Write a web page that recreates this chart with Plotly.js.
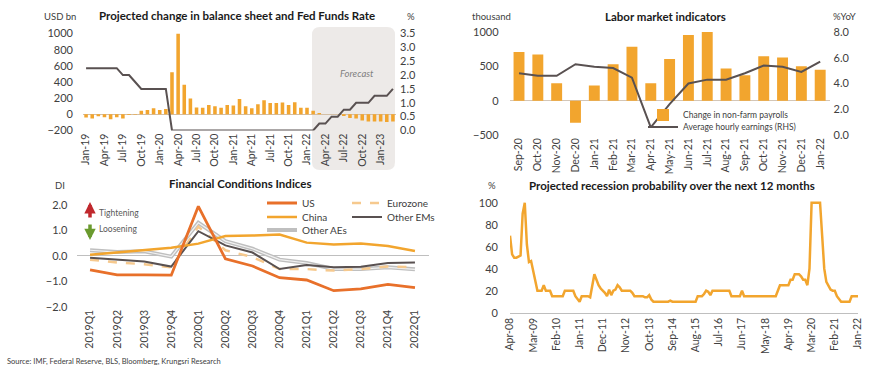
<!DOCTYPE html>
<html><head><meta charset="utf-8">
<script src="https://cdn.plot.ly/plotly-3.0.1.min.js"></script>
<style>html,body{margin:0;padding:0;background:#fff;}#chart{width:870px;height:370px;}</style>
</head><body><div id="chart"></div>
<script>
const MONTHS=['Jan','Feb','Mar','Apr','May','Jun','Jul','Aug','Sep','Oct','Nov','Dec'];
function monthSeq(m0,y0,n){const out=[];for(let i=0;i<n;i++){const m=(m0+i)%12;const y=y0+Math.floor((m0+i)/12);out.push(MONTHS[m]+'-'+String(y%100).padStart(2,'0'));}return out;}

// ---- Panel 1: balance sheet & Fed Funds Rate (Jan-19 .. Mar-23)
const bsMonths = monthSeq(0,2019,51);
const bsChange = [-40,-50,-25,-35,-60,-35,-50,-8,-5,45,55,75,55,65,520,1000,365,195,85,80,115,100,80,115,110,190,100,75,125,175,140,140,145,115,150,80,80,45,15,0,0,0,-20,-45,-50,-75,-90,-90,-90,-95,-90];
const fedFunds = [2.25,2.25,2.25,2.25,2.25,2.25,2.0,2.0,1.75,1.5,1.5,1.5,1.5,1.5,0,0,0,0,0,0,0,0,0,0,0,0,0,0,0,0,0,0,0,0,0,0,0,0,0.25,0.25,0.5,0.5,0.75,0.75,1.0,1.0,1.0,1.25,1.25,1.25,1.5];
const bsTicks = ['Jan-19','Apr-19','Jul-19','Oct-19','Jan-20','Apr-20','Jul-20','Oct-20','Jan-21','Apr-21','Jul-21','Oct-21','Jan-22','Apr-22','Jul-22','Oct-22','Jan-23'];

// ---- Panel 2: Labor market
const labMonths = ['Sep-20','Oct-20','Nov-20','Dec-20','Jan-21','Feb-21','Mar-21','Apr-21','May-21','Jun-21','Jul-21','Aug-21','Sep-21','Oct-21','Nov-21','Dec-21','Jan-22'];
const payrolls = [710,672,255,-320,220,530,785,255,605,955,1000,468,370,648,630,500,452];
const hourlyEarnings = [4.8,4.6,4.6,5.5,5.3,5.2,4.45,0.6,2.4,4.0,4.3,4.3,4.8,5.4,5.3,4.9,5.7];

// ---- Panel 3: Financial Conditions Indices
const quarters = ['2019Q1','2019Q2','2019Q3','2019Q4','2020Q1','2020Q2','2020Q3','2020Q4','2021Q1','2021Q2','2021Q3','2021Q4','2022Q1'];
const fciUS = [-0.55,-0.75,-0.75,-0.76,1.95,-0.12,-0.4,-0.86,-0.95,-1.37,-1.3,-1.12,-1.25];
const fciChina = [0.04,0.13,0.22,0.32,0.48,0.78,0.8,0.84,0.52,0.45,0.49,0.39,0.19];
const fciEuro = [-0.15,-0.26,-0.33,-0.45,1.15,0.22,-0.05,-0.52,-0.52,-0.58,-0.52,-0.42,-0.45];
const fciOtherEM = [-0.07,-0.13,-0.22,-0.42,0.97,0.41,0.13,-0.52,-0.36,-0.45,-0.43,-0.28,-0.26];
const fciOtherAE = [0.22,0.15,0.18,-0.03,1.3,0.58,0.28,-0.15,-0.28,-0.52,-0.52,-0.45,-0.53];

// ---- Panel 4: recession probability (Apr-08 .. Jan-22)
const recMonths = monthSeq(3,2008,166);
const recessionProb = [
 70,53,50,50,51,52,90,100,62,
 46,47,38,28,20,20,20,25,20,20,20,15,
 15,15,15,15,15,20,20,20,20,20,15,12,
 10,15,15,15,15,14,25,35,30,25,22,20,
 18,15,21,16,20,21,25,23,20,20,20,20,
 20,18,15,15,15,15,15,14,14,16,12,10,
 10,10,10,10,10,10,10,11,10,10,10,10,
 10,10,10,10,10,10,10,10,15,15,15,17,
 20,19,16,20,20,20,20,20,20,20,20,20,
 15,15,15,15,15,20,15,15,15,15,15,15,
 15,15,15,15,15,15,15,15,15,15,20,25,
 25,25,25,25,30,30,35,35,35,33,30,30,
 25,40,100,100,100,100,100,70,40,28,25,21,
 20,20,15,12,10,10,10,10,10,15,15,15,
 15];
const recTicks = ['Apr-08','Mar-09','Feb-10','Jan-11','Dec-11','Nov-12','Oct-13','Sep-14','Aug-15','Jul-16','Jun-17','May-18','Apr-19','Mar-20','Feb-21','Jan-22'];

// ---- styling
const W=870,H=370;
const px=x=>x/W, py=y=>1-y/H;
const ORANGE='#F2A52E', US_C='#E8702A', EURO_C='#F6C98E', EM_C='#595151', AE_C='#BFBFBF', TXT='#404040';
const FONT='Lato';

const traces = [
 {type:'bar',x:bsMonths,y:bsChange,xaxis:'x',yaxis:'y',marker:{color:ORANGE},showlegend:false},
 {type:'scatter',mode:'lines',x:bsMonths,y:fedFunds,xaxis:'x',yaxis:'y2',line:{color:'#595151',width:2},showlegend:false},

 {type:'bar',name:'Change in non-farm payrolls',x:labMonths,y:payrolls,xaxis:'x2',yaxis:'y3',marker:{color:ORANGE},legend:'legend'},
 {type:'scatter',mode:'lines',name:'Average hourly earnings (RHS)',x:labMonths,y:hourlyEarnings,xaxis:'x2',yaxis:'y4',line:{color:'#595151',width:2},legend:'legend2'},

 {type:'scatter',mode:'lines',name:'Other AEs',x:quarters,y:fciOtherAE,xaxis:'x3',yaxis:'y5',line:{color:AE_C,width:4},legend:'legend5'},
 {type:'scatter',mode:'lines',x:quarters,y:fciOtherAE,xaxis:'x3',yaxis:'y5',line:{color:'#F2F2F2',width:1.2},showlegend:false},
 {type:'scatter',mode:'lines',name:'Eurozone',x:quarters,y:fciEuro,xaxis:'x3',yaxis:'y5',line:{color:EURO_C,width:2.5,dash:'dash'},legend:'legend6'},
 {type:'scatter',mode:'lines',name:'Other EMs',x:quarters,y:fciOtherEM,xaxis:'x3',yaxis:'y5',line:{color:EM_C,width:2},legend:'legend7'},
 {type:'scatter',mode:'lines',name:'China',x:quarters,y:fciChina,xaxis:'x3',yaxis:'y5',line:{color:ORANGE,width:2.5},legend:'legend4'},
 {type:'scatter',mode:'lines',name:'US',x:quarters,y:fciUS,xaxis:'x3',yaxis:'y5',line:{color:US_C,width:2.8},legend:'legend3'},

 {type:'scatter',mode:'lines',x:recMonths,y:recessionProb,xaxis:'x4',yaxis:'y6',line:{color:ORANGE,width:2.5},showlegend:false}
];

const tf={family:FONT,size:11,color:TXT};
const xbase={type:'category',showgrid:false,zeroline:false,ticks:'',tickangle:-90,tickfont:{family:FONT,size:10.5,color:TXT},showline:false,fixedrange:true};
const ybase={showgrid:false,ticks:'',tickfont:tf,showline:false,fixedrange:true};

function leg(x,y,size){return {x:px(x),y:py(y),xref:'paper',yref:'paper',xanchor:'left',yanchor:'middle',bgcolor:'rgba(0,0,0,0)',font:{family:FONT,size:size,color:TXT},tracegroupgap:0};}

function ann(text,x,y,opts){return Object.assign({text:text,x:px(x),y:py(y),xref:'paper',yref:'paper',showarrow:false,xanchor:'center',yanchor:'middle',font:{family:FONT,size:10,color:TXT}},opts||{});}

// rounded forecast box (decoration)
function roundRect(x0,y0,x1,y1,r){
  const X=v=>px(v), Y=v=>py(v);
  return `M${X(x0+r)},${Y(y0)} L${X(x1-r)},${Y(y0)} Q${X(x1)},${Y(y0)} ${X(x1)},${Y(y0+r)} L${X(x1)},${Y(y1-r)} Q${X(x1)},${Y(y1)} ${X(x1-r)},${Y(y1)} L${X(x0+r)},${Y(y1)} Q${X(x0)},${Y(y1)} ${X(x0)},${Y(y1-r)} L${X(x0)},${Y(y0+r)} Q${X(x0)},${Y(y0)} ${X(x0+r)},${Y(y0)} Z`;
}

const layout={
 width:W,height:H,margin:{l:0,r:0,t:0,b:0},paper_bgcolor:'#fff',plot_bgcolor:'rgba(0,0,0,0)',
 font:{family:FONT,color:TXT},bargap:0.42,
 xaxis:Object.assign({},xbase,{domain:[px(83),px(396)],anchor:'y',range:[-0.5,50.5],tickmode:'array',tickvals:bsTicks,ticktext:bsTicks}),
 yaxis:Object.assign({},ybase,{domain:[py(130.5),py(33.5)],anchor:'x',range:[-200,1000],dtick:200,tick0:0,zeroline:true,zerolinecolor:'#D3BFA6',zerolinewidth:1,ticklabelstandoff:9}),
 yaxis2:Object.assign({},ybase,{overlaying:'y',side:'right',anchor:'x',range:[0,3.5],dtick:0.5,tick0:0,tickformat:'.1f',zeroline:false,ticklabelstandoff:3}),

 xaxis2:Object.assign({},xbase,{domain:[px(509.6),px(829.6)],anchor:'y3',range:[-0.5,16.5]}),
 yaxis3:Object.assign({},ybase,{domain:[py(135),py(32)],anchor:'x2',range:[-500,1000],dtick:500,tick0:0,zeroline:true,zerolinecolor:'#D3C6B8',zerolinewidth:1,ticklabelstandoff:10}),
 yaxis4:Object.assign({},ybase,{overlaying:'y3',side:'right',anchor:'x2',range:[0,8],dtick:2,tick0:0,tickformat:'.1f',zeroline:false,ticklabelstandoff:3}),

 xaxis3:Object.assign({},xbase,{domain:[px(76.5),px(428.5)],anchor:'y5',range:[-0.5,12.5]}),
 yaxis5:Object.assign({},ybase,{domain:[py(306.7),py(205)],anchor:'x3',range:[-2,2],dtick:1,tick0:0,tickformat:'.1f',zeroline:true,zerolinecolor:'#BFBFBF',zerolinewidth:1,ticklabelstandoff:8}),

 xaxis4:Object.assign({},xbase,{domain:[px(510),px(858)],anchor:'y6',range:[0,165],tickmode:'array',tickvals:recTicks,ticktext:recTicks,showline:true,linecolor:'#BFBFBF',linewidth:1}),
 yaxis6:Object.assign({},ybase,{domain:[py(312.7),py(200.5)],anchor:'x4',range:[0,102],tickvals:[0,20,40,60,80,100],zeroline:false,ticklabelstandoff:11}),

 legend:leg(643,115,8.5),
 legend2:leg(643,127,8.5),
 legend3:leg(262,203,10),
 legend4:leg(262,217,10),
 legend5:leg(262,230,10),
 legend6:leg(347,203,10),
 legend7:leg(347,217,10),

 shapes:[
  {type:'path',xref:'paper',yref:'paper',path:roundRect(312,27,395,170,8),fillcolor:'#EDEAE8',line:{width:0},layer:'below'}
 ],
 annotations:[
  ann('<b>Projected change in balance sheet and Fed Funds Rate</b>',237,15,{font:{family:FONT,size:11.5,color:'#1a1a1a'}}),
  ann('USD bn',60,16,{font:{family:FONT,size:9.5,color:TXT}}),
  ann('%',411,16,{font:{family:FONT,size:9.5,color:TXT}}),
  ann('<i>Forecast</i>',357,74,{font:{family:FONT,size:9.5,color:'#7F7F7F'}}),

  ann('<b>Labor market indicators</b>',665,16,{font:{family:FONT,size:11.5,color:'#1a1a1a'}}),
  ann('thousand',491,16,{font:{family:FONT,size:9.5,color:TXT}}),
  ann('%YoY',844,16,{font:{family:FONT,size:9.5,color:TXT}}),

  ann('<b>Financial Conditions Indices</b>',240,183,{font:{family:FONT,size:11.5,color:'#1a1a1a'}}),
  ann('DI',60,185,{font:{family:FONT,size:9.5,color:TXT}}),
  ann('Tightening',97,212.5,{xanchor:'left',font:{family:FONT,size:8.5,color:'#595959'}}),
  ann('Loosening',97,229,{xanchor:'left',font:{family:FONT,size:8.5,color:'#595959'}}),
  {text:'',x:px(90),y:py(202),xref:'paper',yref:'paper',showarrow:true,ax:0,ay:17,arrowhead:2,arrowsize:0.65,arrowwidth:3.5,arrowcolor:'#C0282D',standoff:0,startstandoff:0},
  {text:'',x:px(90),y:py(240),xref:'paper',yref:'paper',showarrow:true,ax:0,ay:-17,arrowhead:2,arrowsize:0.65,arrowwidth:3.5,arrowcolor:'#6A9A2E',standoff:0,startstandoff:0},

  ann('<b>Projected recession probability over the next 12 months</b>',672,185,{font:{family:FONT,size:11.5,color:'#1a1a1a'}}),
  ann('%',492,185,{font:{family:FONT,size:9.5,color:TXT}}),

  ann('Source: IMF, Federal Reserve, BLS, Bloomberg, Krungsri Research',5,361,{xanchor:'left',font:{family:FONT,size:7.5,color:TXT}})
 ]
};

Plotly.newPlot('chart',traces,layout,{displayModeBar:false,staticPlot:true});
</script></body></html>
